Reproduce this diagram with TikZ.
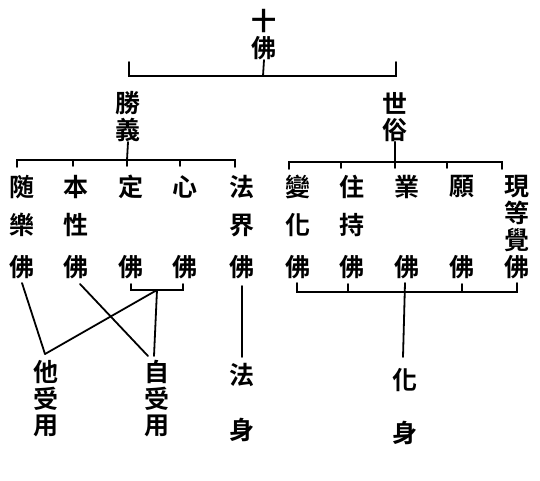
\documentclass[tikz,border=0pt]{standalone}
\usepackage{fontspec}
\newfontfamily\cjk{Noto Sans CJK TC}[BoldFont={Noto Sans CJK TC Bold}]
\begin{document}
\begin{tikzpicture}[x=1pt,y=-1pt,
  ch/.style={font=\cjk\bfseries\fontsize{25}{25}\selectfont,inner sep=0pt,anchor=center},
  ln/.style={line width=1.8pt,line cap=round}]
\useasboundingbox (0,0) rectangle (540,480);
% top
\node[ch] (t1) at (264,21) {十};
\node[ch] (t2) at (264,48) {佛};
\node[ch] (s1) at (128,103) {勝};
\node[ch] (s2) at (128,130) {義};
\node[ch] (w1) at (395,103) {世};
\node[ch] (w2) at (395,130) {俗};
\coordinate (tb) at (263,76);
\coordinate (tl) at (129,76);
\coordinate (tr) at (396,76);
\draw[ln] (t2.south) -- (tb);
\draw[ln] ([yshift=14]tl) -- (tl) -- (tr) -- ([yshift=14]tr);
% left bar
\coordinate (lb) at (127,160);
\draw[ln] (s2.south) -- (lb);
\draw[ln] (17,167) -- (17,160) -- (235,160) -- (235,167);
\draw[ln] (73,160) -- (73,166);
\draw[ln] (180,160) -- (180,166);
\draw[ln] (127,160) -- (127,166);
% right bar
\coordinate (rb) at (395,162);
\draw[ln] (w2.south) -- (rb);
\draw[ln] (289,169) -- (289,162) -- (502,162) -- (502,169);
\draw[ln] (341,162) -- (341,168);
\draw[ln] (447,162) -- (447,168);
\draw[ln] (395,162) -- (395,168);
% left leaves
\node[ch] (a1) at (22,187) {随};
\node[ch] (a2) at (22,225) {樂};
\node[ch] (a3) at (22,267) {佛};
\node[ch] (b1) at (76,187) {本};
\node[ch] (b2) at (76,225) {性};
\node[ch] (b3) at (76,267) {佛};
\node[ch] (c1) at (131,187) {定};
\node[ch] (c3) at (131,267) {佛};
\node[ch] (d1) at (185,187) {心};
\node[ch] (d3) at (185,267) {佛};
\node[ch] (e1) at (242,187) {法};
\node[ch] (e2) at (242,225) {界};
\node[ch] (e3) at (242,267) {佛};
% right leaves
\node[ch] (f1) at (298,187) {變};
\node[ch] (f2) at (298,225) {化};
\node[ch] (f3) at (298,267) {佛};
\node[ch] (g1) at (352,187) {住};
\node[ch] (g2) at (352,225) {持};
\node[ch] (g3) at (352,267) {佛};
\node[ch] (h1) at (407,187) {業};
\node[ch] (h3) at (407,267) {佛};
\node[ch] (i1) at (462,187) {願};
\node[ch] (i3) at (462,267) {佛};
\node[ch] (j1) at (517,187) {現};
\node[ch] (j2) at (517,213) {等};
\node[ch] (j3) at (517,240) {覺};
\node[ch] (j4) at (517,267) {佛};
% bottom left
\node[ch] (p1) at (46,372) {他};
\node[ch] (p2) at (46,399) {受};
\node[ch] (p3) at (46,426) {用};
\node[ch] (q1) at (157,372) {自};
\node[ch] (q2) at (157,399) {受};
\node[ch] (q3) at (157,426) {用};
\node[ch] (r1) at (242,375) {法};
\node[ch] (r2) at (242,430) {身};
\node[ch] (u1) at (405,380) {化};
\node[ch] (u2) at (405,433) {身};
\coordinate (m) at (157,290);
\coordinate (pt) at (45,354);
\coordinate (qt) at (154,356);
\coordinate (qs) at (148,356);
\draw[ln] (131,284) -- (131,290) -- (183,290) -- (183,284);
\draw[ln] (m) -- (pt);
\draw[ln] (m) -- (qt);
\draw[ln] (22,283) -- (pt);
\draw[ln] (80,284) -- (qs);
\coordinate (et) at (242,286);
\coordinate (eb) at (242,357);
\draw[ln] (et) -- (eb);
% bottom right
\draw[ln] (297,283) -- (297,292) -- (517,292) -- (517,283);
\draw[ln] (348,284) -- (348,292);
\draw[ln] (462,284) -- (462,292);
\coordinate (ut) at (405,283);
\coordinate (ub) at (403,357);
\draw[ln] (ut) -- (ub);
\end{tikzpicture}
\end{document}
